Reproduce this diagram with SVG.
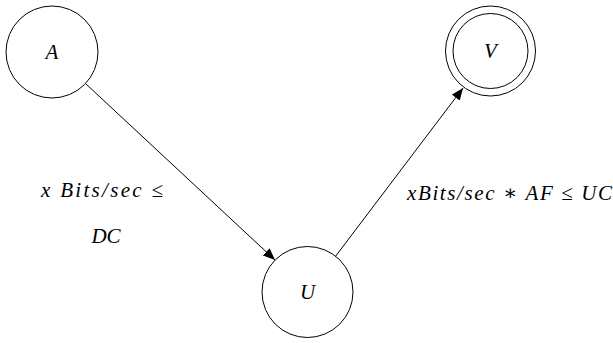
<svg xmlns="http://www.w3.org/2000/svg" width="613" height="343" viewBox="0 0 613 343">
<defs>
<marker id="arr" viewBox="0 0 12 10" refX="12" refY="5" markerWidth="12" markerHeight="10" markerUnits="userSpaceOnUse" orient="auto">
<path d="M0,0 L12,5 L0,10 Z" fill="#000"/>
</marker>
</defs>
<rect width="613" height="343" fill="#fff"/>
<g id="connectors" stroke="#000" stroke-width="1" fill="none">
<path d="M86,84 L275,260" marker-end="url(#arr)"/>
<path d="M335,257 L463,88" marker-end="url(#arr)"/>
</g>
<g id="labels" font-family="Liberation Serif, DejaVu Serif, serif" font-style="italic" font-size="21" fill="#000" stroke="none">
<text x="41" y="197" textLength="122" lengthAdjust="spacing">x Bits/sec ≤</text>
<text x="106" y="243" text-anchor="middle">DC</text>
<text x="407" y="200" textLength="205" lengthAdjust="spacing">xBits/sec ∗ AF ≤ UC</text>
</g>
<g id="A">
<circle cx="52" cy="52" r="46" fill="#fff" stroke="#000"/>
<text x="52" y="59" text-anchor="middle" font-family="Liberation Serif, DejaVu Serif, serif" font-style="italic" font-size="21">A</text>
</g>
<g id="U">
<circle cx="307.5" cy="292" r="45.5" fill="#fff" stroke="#000"/>
<text x="307.5" y="299" text-anchor="middle" font-family="Liberation Serif, DejaVu Serif, serif" font-style="italic" font-size="21">U</text>
</g>
<g id="V">
<circle cx="490.5" cy="51" r="45" fill="#fff" stroke="#000"/>
<circle cx="490.5" cy="51" r="37.5" fill="#fff" stroke="#000"/>
<text x="490.5" y="58" text-anchor="middle" font-family="Liberation Serif, DejaVu Serif, serif" font-style="italic" font-size="21">V</text>
</g>
</svg>
